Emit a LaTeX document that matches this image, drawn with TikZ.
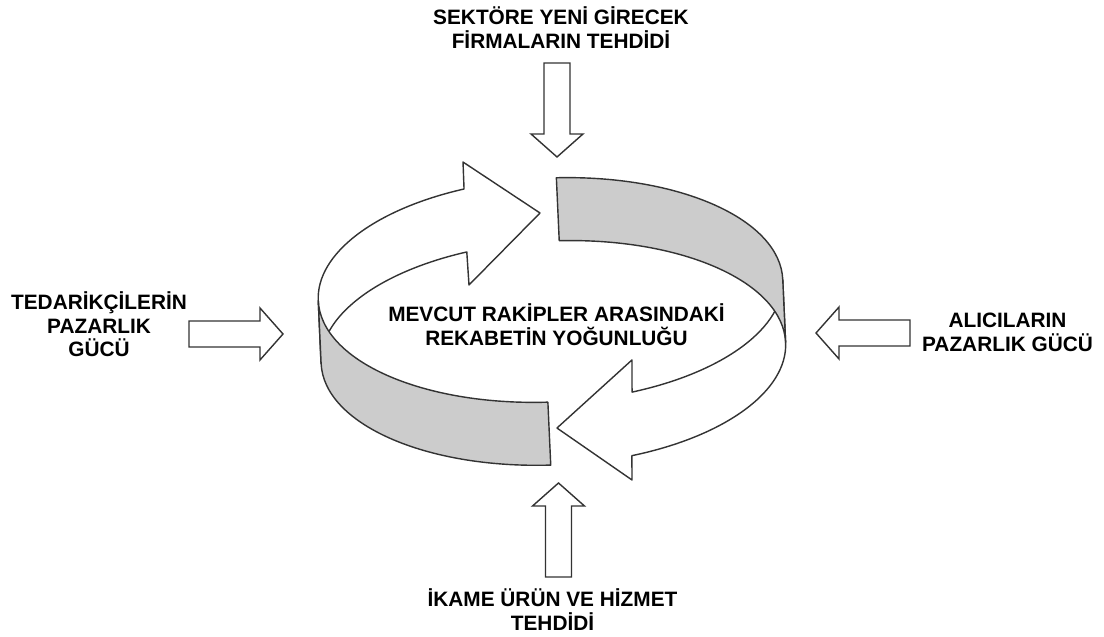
\documentclass[tikz,border=0pt]{standalone}
\usepackage{fontspec}
\setmainfont{Liberation Sans}
\usetikzlibrary{calc}

\begin{document}
\begin{tikzpicture}[x=0.025cm,y=0.025cm,
  every node/.style={font=\fontsize{14.8}{16.8}\selectfont\bfseries, align=center, inner sep=0pt},
  ringsize/.style={x radius=232.5, y radius=112},
  ringline/.style={draw=black!80, line width=1pt, line join=round},
  inside/.style={ringline, fill=white},
  outside/.style={ringline, fill=black!20},
  force/.style={draw=black!80, line width=1pt, fill=white, line join=miter,
    to path={($(\tikztostart)!0.325cm!90:(\tikztotarget)$)
      -- ($(\tikztostart)!0.755!(\tikztotarget)!0.325cm!90:(\tikztotarget)$)
      -- ($(\tikztostart)!0.755!(\tikztotarget)!0.65cm!90:(\tikztotarget)$)
      -- (\tikztotarget)
      -- ($(\tikztostart)!0.755!(\tikztotarget)!0.65cm!-90:(\tikztotarget)$)
      -- ($(\tikztostart)!0.755!(\tikztotarget)!0.325cm!-90:(\tikztotarget)$)
      -- ($(\tikztostart)!0.325cm!-90:(\tikztotarget)$) -- cycle}}]
\useasboundingbox (0,0) rectangle (1104,637);

\begin{scope}[shift={(550.5,347)}, rotate=2.6]
\path[inside] (180:232.5 and 112) arc[ringsize, start angle=180, end angle=110.6]
  -- (-81.6,131.8) -- (-7,77.4) -- (-81.2,8.7) -- (-81.9,41.8)
  arc[ringsize, start angle=110.6, end angle=180] -- cycle;
\path[inside] (0:232.5 and 112) arc[ringsize, start angle=0, end angle=-70.7]
  -- (78.2,-73.6) -- (0.2,-138.2) -- (72.8,-193.5) -- (73.8,-169.2)
  arc[ringsize, start angle=-71.5, end angle=0] -- cycle;
\path[outside] (87.3:232.5 and 112) arc[ringsize, start angle=87.3, end angle=0]
  -- (232.5,-63) arc[ringsize, start angle=0, end angle=87.3] -- cycle;
\path[outside] (180:232.5 and 112) arc[ringsize, start angle=180, end angle=268.1]
  -- ++(0,-63) arc[ringsize, start angle=268.1, end angle=180] -- cycle;
\end{scope}

\node (rivalry) at (556.5,312.6) {MEVCUT RAKİPLER ARASINDAKİ\\REKABETİN YOĞUNLUĞU};
\node (entrants) at (561,609.6) {SEKTÖRE YENİ GİRECEK\\FİRMALARIN TEHDİDİ};
\node (suppliers) at (99,312.7) {TEDARİKÇİLERİN\\PAZARLIK\\GÜCÜ};
\node (buyers) at (1007.5,304.8) {ALICILARIN\\PAZARLIK GÜCÜ};
\node (substitutes) at (552.5,27.6) {İKAME ÜRÜN VE HİZMET\\TEHDİDİ};

\coordinate (entrants-tail) at (557,574);
\coordinate (entrants-tip) at (557,480);
\coordinate (substitutes-tail) at (558.5,60);
\coordinate (substitutes-tip) at (558.5,154);
\coordinate (suppliers-tail) at (189,303);
\coordinate (suppliers-tip) at (283,303);
\coordinate (buyers-tail) at (910,304);
\coordinate (buyers-tip) at (816,304);

\draw[force] (entrants-tail) to (entrants-tip);
\draw[force] (substitutes-tail) to (substitutes-tip);
\draw[force] (suppliers-tail) to (suppliers-tip);
\draw[force] (buyers-tail) to (buyers-tip);
\end{tikzpicture}
\end{document}
